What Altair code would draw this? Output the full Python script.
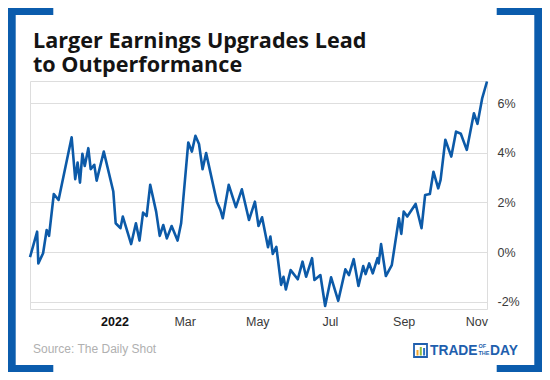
import altair as alt
import pandas as pd

# ---- data ----
dates = [
    "2021-10-22", "2021-10-28", "2021-10-29", "2021-11-02", "2021-11-05", "2021-11-07",
    "2021-11-11", "2021-11-15", "2021-11-26", "2021-11-29", "2021-12-01", "2021-12-03",
    "2021-12-05", "2021-12-07", "2021-12-10", "2021-12-12", "2021-12-15", "2021-12-17",
    "2021-12-23", "2021-12-31", "2022-01-02", "2022-01-06", "2022-01-08", "2022-01-15",
    "2022-01-19", "2022-01-22", "2022-01-25", "2022-01-28", "2022-01-31", "2022-02-05",
    "2022-02-08", "2022-02-11", "2022-02-14", "2022-02-18", "2022-02-23", "2022-02-26",
    "2022-03-04", "2022-03-07", "2022-03-10", "2022-03-13", "2022-03-16", "2022-03-19",
    "2022-03-28", "2022-03-31", "2022-04-02", "2022-04-07", "2022-04-13", "2022-04-18",
    "2022-04-24", "2022-04-29", "2022-05-02", "2022-05-05", "2022-05-10", "2022-05-12",
    "2022-05-14", "2022-05-17", "2022-05-21", "2022-05-23", "2022-05-25", "2022-05-29",
    "2022-06-04", "2022-06-08", "2022-06-11", "2022-06-16", "2022-06-18", "2022-06-23",
    "2022-06-27", "2022-07-02", "2022-07-08", "2022-07-14", "2022-07-17", "2022-07-21",
    "2022-07-25", "2022-07-29", "2022-07-31", "2022-08-03", "2022-08-06", "2022-08-10",
    "2022-08-11", "2022-08-13", "2022-08-17", "2022-08-22", "2022-08-28", "2022-08-30",
    "2022-09-01", "2022-09-04", "2022-09-11", "2022-09-16", "2022-09-19", "2022-09-23",
    "2022-09-26", "2022-09-30", "2022-10-02", "2022-10-06", "2022-10-11", "2022-10-15",
    "2022-10-19", "2022-10-24", "2022-10-30", "2022-11-02", "2022-11-06", "2022-11-10",
]
values = [
    -0.21, 0.82, -0.46, -0.05, 0.89, 0.65,
    2.34, 2.10, 4.63, 2.94, 3.61, 2.80,
    3.96, 3.47, 4.19, 3.34, 3.52, 2.88,
    4.05, 2.44, 1.16, 0.96, 1.43, 0.32,
    1.16, 0.46, 1.59, 1.45, 2.71, 1.63,
    0.65, 1.09, 0.55, 1.05, 0.46, 1.16,
    4.42, 4.05, 4.69, 4.36, 3.34, 3.99,
    2.03, 1.70, 1.36, 2.71, 1.81, 2.53,
    1.29, 2.03, 1.05, 1.40, 0.19, 0.62,
    -0.08, 0.21, -1.33, -1.00, -1.51, -0.73,
    -1.10, -0.39, -1.00, -0.25, -1.13, -0.93,
    -2.18, -1.02, -1.97, -0.70, -0.93, -0.29,
    -1.37, -0.57, -0.89, -0.46, -0.86, -0.25,
    -0.46, 0.32, -0.97, -0.53, 1.36, 0.73,
    1.63, 1.43, 1.94, 0.96, 2.30, 2.34,
    3.24, 2.57, 2.91, 4.53, 3.85, 4.86,
    4.77, 4.12, 5.60, 5.17, 6.21, 6.88,
]
y_ticks = [-2, 0, 2, 4, 6]
x_tick_months = [1, 3, 5, 7, 9, 11]

title_lines = ["Larger Earnings Upgrades Lead", "to Outperformance"]
source_text = "Source: The Daily Shot"

df = pd.DataFrame({"date": dates, "value": values})

BLUE = "#0b5cad"
LINE = "#0c5aa8"
one = alt.Data(values=[{"a": 1}])

x_enc = alt.X(
    "date:T",
    scale=alt.Scale(
        type="utc",
        domain=[alt.DateTime(year=2021, month=10, date=22, utc=True),
                alt.DateTime(year=2022, month=11, date=10, utc=True)],
        nice=False,
    ),
    axis=alt.Axis(
        title=None, grid=False, domain=False, ticks=False,
        values=[alt.DateTime(year=2022, month=m, date=1, utc=True) for m in x_tick_months],
        labelExpr="utcmonth(datum.value) == 0 ? utcFormat(datum.value, '%Y') : utcFormat(datum.value, '%b')",
        labelFont="Liberation Sans", labelFontSize=12.5,
        labelColor=alt.condition("utcmonth(datum.value) == 0", alt.value("#111111"), alt.value("#3a3a3a")),
        labelFontWeight=alt.condition("utcmonth(datum.value) == 0", alt.value("bold"), alt.value("normal")),
        labelPadding=6, labelFlush=False,
    ),
)
y_enc = alt.Y(
    "value:Q",
    scale=alt.Scale(domain=[-2.3, 6.9], nice=False, zero=False),
    axis=alt.Axis(
        title=None, orient="right", values=y_ticks, domain=False, ticks=False,
        grid=True, gridColor="#dedede", gridWidth=1,
        labelExpr="datum.value + '%'",
        labelFont="Liberation Sans", labelFontSize=12.5, labelColor="#3a3a3a",
        labelPadding=10,
    ),
)

line = alt.Chart(df).mark_line(color=LINE, strokeWidth=2.6, strokeJoin="round").encode(x=x_enc, y=y_enc)


def rect(x1, x2, y1, y2, color=BLUE):
    return alt.Chart(one).mark_rect(color=color).encode(
        x=alt.value(x1), x2=alt.value(x2), y=alt.value(y1), y2=alt.value(y2))


brackets = [
    rect(-22, -14.3, -73, 291.7), rect(-22, 23.3, -73, -66), rect(-22, 23.3, 284, 291.7),
    rect(504.3, 512.3, -73, 291.7), rect(466.7, 512.3, -73, -66), rect(466.7, 512.3, 284, 291.7),
]


def text(t, x, y, **kw):
    return alt.Chart(one).mark_text(text=t, align="left", baseline="alphabetic", **kw).encode(
        x=alt.value(x), y=alt.value(y))


title = text(title_lines, 3, -33, font="Open Sans", fontWeight="bold", fontSize=21.6,
             lineHeight=24, color="#141414")
source = text(source_text, 3, 272, font="Liberation Sans", fontSize=12, color="#b0b0b0")

logo_icon = alt.Chart(one).mark_rect(filled=False, stroke="#1f5fae", strokeWidth=1.8).encode(
    x=alt.value(384), x2=alt.value(397), y=alt.value(263), y2=alt.value(276))
logo_bars = [
    rect(386.5, 388.5, 269, 274.5, "#f2a52b"),
    rect(389.8, 391.8, 266, 274.5, "#8dbb3f"),
    rect(393.1, 395.1, 267, 274.5, "#2a72c6"),
]
logo_text = [
    text("TRADE", 400, 274, font="Liberation Sans", fontWeight="bold", fontSize=13.8, color="#1f5fae"),
    text(["OF", "THE"], 448.5, 267, font="Liberation Sans", fontWeight="bold", fontSize=5.5,
         lineHeight=6.5, color="#1f5fae"),
    text("DAY", 460, 274, font="Liberation Sans", fontWeight="bold", fontSize=13.8, color="#1f5fae"),
]

chart = alt.layer(line, *brackets, title, source, logo_icon, *logo_bars, *logo_text).properties(
    width=457, height=228,
    autosize=alt.AutoSizeParams(type="none"),
    padding={"left": 22, "top": 73, "right": 55, "bottom": 63},
).configure_view(stroke=None).configure(background="white")

chart.save("out.html", embed_options={"renderer": "svg", "actions": False})
